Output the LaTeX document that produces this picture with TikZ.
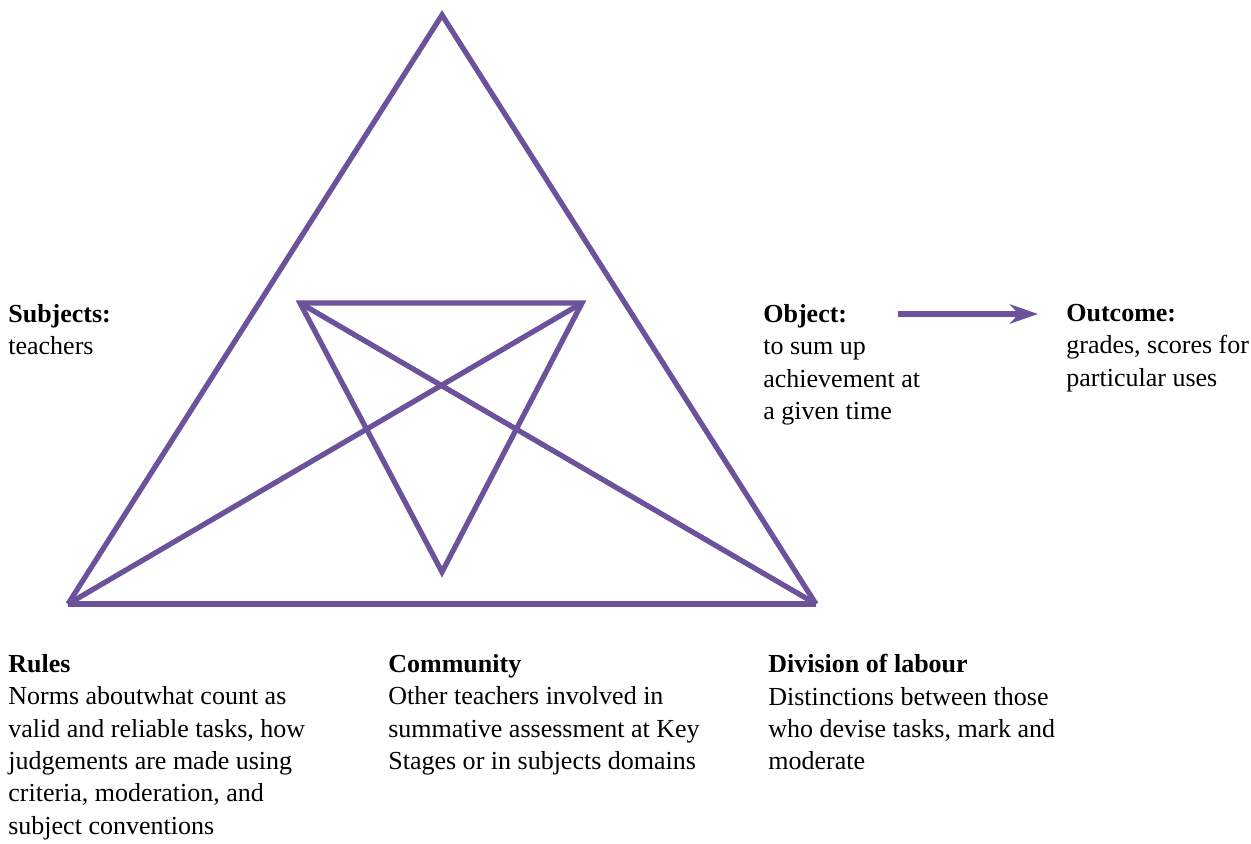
\documentclass[tikz,border=0pt]{standalone}
\usepackage{fontspec}
\setmainfont{Liberation Serif}
\usetikzlibrary{arrows.meta}
\definecolor{actpurple}{HTML}{6B529B}
\begin{document}
\begin{tikzpicture}[x=0.02cm,y=-0.02cm,line join=miter,>={Stealth[length=16pt,width=11pt,inset=5pt]}]
	\tikzset{txt/.style={anchor=north west,inner sep=0pt,align=left,font=\fontsize{14.8}{18.4}\selectfont},
		edge/.style={draw=actpurple,line width=3pt}}
	\useasboundingbox (0,0) rectangle (1251,843);
	% outer triangle
	\coordinate (apex) at (442,15);
	\coordinate (left) at (68,604);
	\coordinate (right) at (816,604);
	% inner triangle
	\coordinate (inl) at (300,303);
	\coordinate (inr) at (582,303);
	\coordinate (inb) at (442,572);
	\draw[edge] (left)--(apex)--(right);
	\draw[edge] (left)--(right);
	\draw[edge] (inl)--(inr)--(inb)--cycle;
	\draw[edge] (left)--(inr);
	\draw[edge] (right)--(inl);
	% labels
	\node[txt] (subj) at (8,304) {\textbf{Subjects:}\\teachers};
	\node[txt] (obj) at (763,304) {\textbf{Object:}\\to sum up\\achievement at\\a given time};
	\node[txt] (outc) at (1066,304) {\textbf{Outcome:}\\grades, scores for\\particular uses};
	\node[txt] (rules) at (8,654) {\textbf{Rules}\\Norms aboutwhat count as\\valid and reliable tasks, how\\judgements are made using\\criteria, moderation, and\\subject conventions};
	\node[txt] (comm) at (388,654) {\textbf{Community}\\Other teachers involved in\\summative assessment at Key\\Stages or in subjects domains};
	\node[txt] (divl) at (768,654) {\textbf{Division of labour}\\Distinctions between those\\who devise tasks, mark and\\moderate};
	\coordinate (arst) at (898,314);
	\coordinate (arend) at (1038,314);
	\draw[->,actpurple,line width=3.4pt] (arst)--(arend);
\end{tikzpicture}
\end{document}
